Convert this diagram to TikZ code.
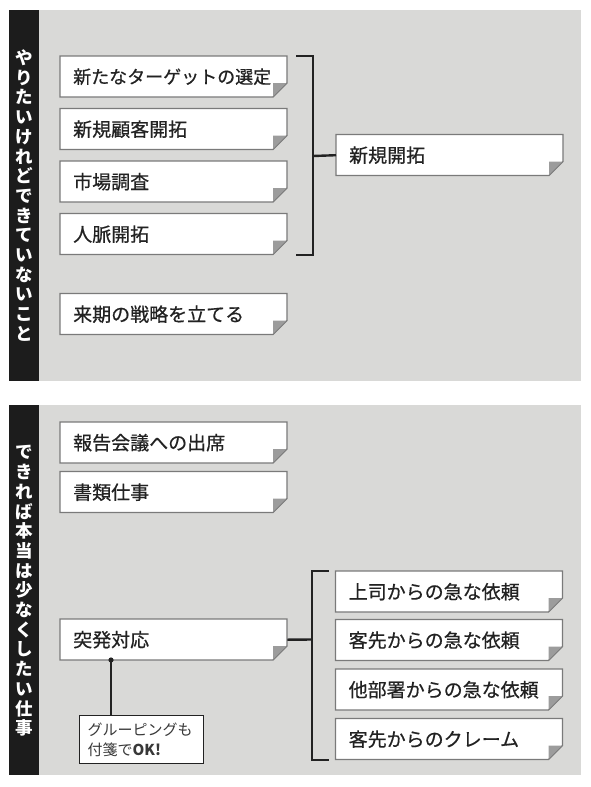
\documentclass[tikz,border=0pt]{standalone}
\usepackage{fontspec}
\newfontfamily\jp{Noto Sans CJK JP}
\newfontfamily\jpnote[FakeBold=0.6]{Noto Sans CJK JP}
\usetikzlibrary{calc}
\definecolor{panelgray}{HTML}{D9D9D7}
\definecolor{barblack}{HTML}{1C1C1C}
\definecolor{noteline}{HTML}{7A7A7A}
\definecolor{foldgray}{HTML}{9C9C9C}
\definecolor{inkdark}{HTML}{222222}
\tikzset{
  panel/.style={fill=panelgray, draw=none},
  bar/.style={fill=barblack, draw=none},
  bartext/.style={text=white, align=center, font=\jp\bfseries\fontsize{17.5}{19.7}\selectfont, inner sep=0pt},
  note/.style={anchor=north west, fill=none, draw=none, minimum height=41pt,
    text width=201pt, inner xsep=13pt, inner ysep=0pt, align=left,
    text=inkdark, font=\jpnote\fontsize{19}{21}\selectfont},
  noteedge/.style={draw=noteline, fill=white, line width=1.1pt, line join=miter},
  bracketline/.style={draw=inkdark, line width=2.4pt},
  callout/.style={anchor=north west, fill=white, draw=inkdark, line width=1.3pt,
    minimum width=123pt, minimum height=48pt, text width=108pt, inner xsep=8pt,
    inner ysep=0pt, align=left, text=inkdark!90, font=\jp\fontsize{15}{20}\selectfont}
}
% #1 extra options, #2 name, #3 left, #4 top, #5 text
\newcommand\stickynote[5][]{%
  \filldraw[noteedge] (#3,#4) -- ++(227,0) -- ++(0,27) -- ++(-14,14) -- ++(-213,0) -- cycle;
  \fill[foldgray] (#3+227,#4+27) -- ++(-14,0) -- ++(0,14) -- cycle;
  \draw[noteline, line width=0.6pt] (#3+227,#4+27) -- ++(-14,14);
  \node[note,#1] (#2) at (#3,#4) {#5};
}
\begin{document}
\begin{tikzpicture}[x=1pt, y=-1pt]
\useasboundingbox (0,0) rectangle (591,787);
\fill[white] (0,0) rectangle (591,787);
% panel 1
\fill[panel] (39,10) rectangle (581,381);
\fill[bar] (9,10) rectangle (39,381);
\node[bartext] (v1) at (24,195.5) {や\\り\\た\\い\\け\\れ\\ど\\で\\き\\て\\い\\な\\い\\こ\\と};
% panel 2
\fill[panel] (39,405) rectangle (581,775);
\fill[bar] (9,405) rectangle (39,775);
\node[bartext] (v2) at (24,591) {で\\き\\れ\\ば\\本\\当\\は\\少\\な\\く\\し\\た\\い\\仕\\事};

% panel 1 notes
\stickynote[font=\jpnote\fontsize{18}{20}\selectfont]{a1}{60}{56}{新たなターゲットの選定}
\stickynote{a2}{60}{108.5}{新規顧客開拓}
\stickynote{a3}{60}{161}{市場調査}
\stickynote{a4}{60}{213.5}{人脈開拓}
\stickynote{a5}{60}{293.5}{来期の戦略を立てる}
\stickynote{k1}{336}{134.5}{新規開拓}

\coordinate (br1) at (313,156);
\draw[bracketline] ([xshift=9pt]a1.north east) -| (br1) |- ([xshift=9pt]a4.south east);
\draw[bracketline] (br1) -- (k1.west);

% panel 2 notes
\stickynote{b1}{60}{422}{報告会議への出席}
\stickynote{b2}{60}{471.5}{書類仕事}
\stickynote{b3}{60}{619}{突発対応}
\stickynote{c1}{335.5}{571}{上司からの急な依頼}
\stickynote{c2}{335.5}{619.5}{客先からの急な依頼}
\stickynote{c3}{335.5}{669}{他部署からの急な依頼}
\stickynote{c4}{335.5}{718.5}{客先からのクレーム}

\coordinate (br2) at (312,639.5);
\draw[bracketline] ([xshift=-7pt]c1.north west) -| (br2) |- ([xshift=-7pt]c4.south west);
\draw[bracketline] (b3.east) -- (br2);

% callout
\node[callout] (tip) at (79,715) {グルーピングも\\付箋で\textbf{OK!}};
\coordinate (dot) at (111,660);
\draw[inkdark, line width=1.5pt] (dot) -- (dot |- tip.north);
\fill[inkdark] (dot) circle (2.6pt);
\end{tikzpicture}
\end{document}
